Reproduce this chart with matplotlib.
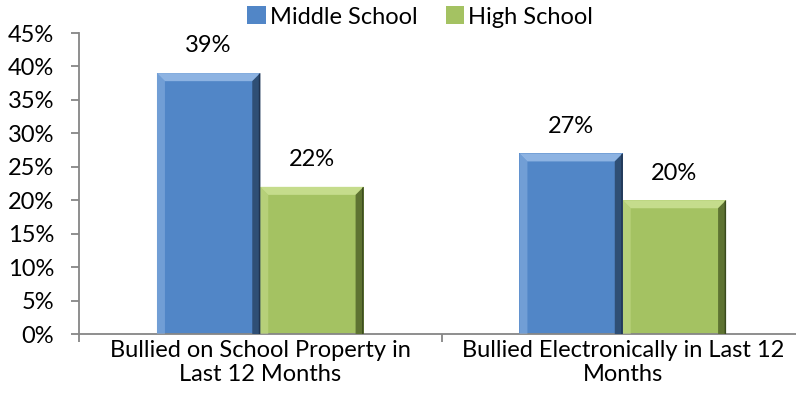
import numpy as np
import matplotlib.pyplot as plt
from matplotlib.patches import Polygon
from matplotlib.ticker import FixedLocator, PercentFormatter

categories = ["Bullied on School Property in\nLast 12 Months",
              "Bullied Electronically in Last 12\nMonths"]
middle_school = [39, 27]
high_school = [22, 20]
series_names = ["Middle School", "High School"]

plt.rcParams['font.family'] = ['Lato', 'DejaVu Sans']
fs = 17

fig = plt.figure(figsize=(7.96, 4.15), dpi=100)
ax = fig.add_axes([79/796, 81/415, 725/796, 301/415])

x = np.arange(len(categories))
w = 0.285
blue, green = "#5186C7", "#A4C262"
b1 = ax.bar(x - w/2, middle_school, w, color=blue, label=series_names[0], zorder=2)
b2 = ax.bar(x + w/2, high_school, w, color=green, label=series_names[1], zorder=2)

# bevel edges, built from the bar patches
def bevel(bars, light, dark, darker):
    for p in bars.patches:
        x0, y0 = p.get_x(), p.get_y()
        x1, y1 = x0 + p.get_width(), y0 + p.get_height()
        dx, dy = 0.022, 1.2
        ax.add_patch(Polygon([(x0, y1), (x1, y1), (x1-dx, y1-dy), (x0+dx, y1-dy)],
                             color=light, lw=0, zorder=3))
        ax.add_patch(Polygon([(x0, y0), (x0, y1), (x0+dx, y1-dy), (x0+dx, y0)],
                             color=light, alpha=0.55, lw=0, zorder=3))
        ax.add_patch(Polygon([(x1, y0), (x1, y1), (x1-dx, y1-dy), (x1-dx, y0)],
                             color=dark, lw=0, zorder=3))
        ax.add_patch(Polygon([(x1-0.004, y0), (x1-0.004, y1-0.15), (x1, y1), (x1, y0)],
                             color=darker, lw=0, zorder=4))

bevel(b1, "#8DB3E2", "#2F4F75", "#1F3350")
bevel(b2, "#C5DC8C", "#5E7332", "#3A4A1E")

for bars, vals in [(b1, middle_school), (b2, high_school)]:
    for p, v in zip(bars.patches, vals):
        ax.text(p.get_x() + p.get_width()/2, v + 2.5, f"{v}%", ha="center",
                va="bottom", fontsize=fs)

ax.set_ylim(0, 45)
ax.set_xlim(-0.5, 1.5)
ax.yaxis.set_major_locator(FixedLocator(np.arange(0, 46, 5)))
ax.yaxis.set_major_formatter(PercentFormatter(decimals=0))
ax.xaxis.set_major_locator(FixedLocator([-0.5, 0.5, 1.5]))
ax.xaxis.set_major_formatter(plt.NullFormatter())
ax.xaxis.set_minor_locator(FixedLocator(x))
ax.set_xticklabels(categories, minor=True)
ax.tick_params(axis="x", which="minor", length=0, pad=4, labelsize=fs)
ax.tick_params(axis="x", which="major", length=6, width=1.3, color="#868686")
ax.tick_params(axis="y", length=6, width=1.3, color="#868686", pad=12, labelsize=fs)
for s in ["top", "right"]:
    ax.spines[s].set_visible(False)
for s in ["left", "bottom"]:
    ax.spines[s].set_color("#868686")
    ax.spines[s].set_linewidth(1.3)

leg = fig.legend(handles=[b1, b2], loc="center", bbox_to_anchor=(420/796, 1 - 17/415),
                 ncol=2, frameon=False, handlelength=0.8, handleheight=0.8,
                 handletextpad=0.15, columnspacing=1.2, fontsize=fs)

fig.savefig("out.png", dpi=100)
